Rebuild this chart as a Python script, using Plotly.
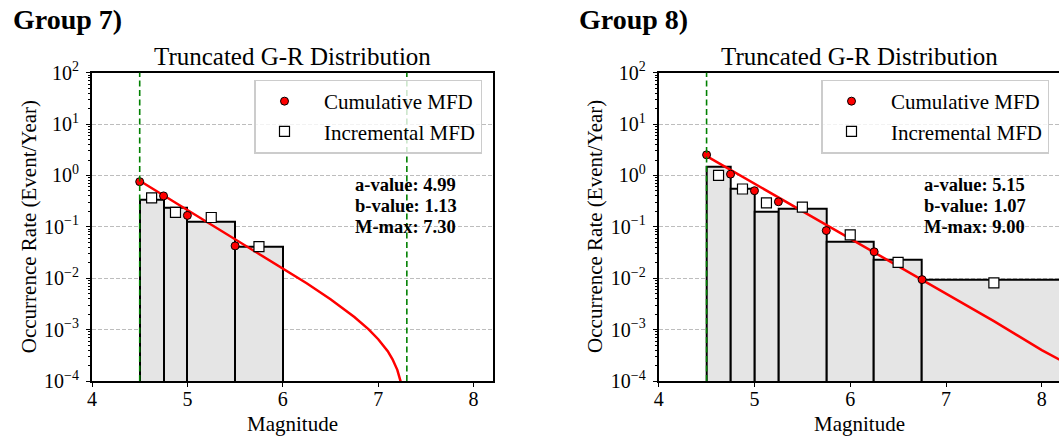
import plotly.graph_objects as go

FONT = "Liberation Serif"

# ---------------- data: Group 7 ----------------
g7_label = "Group 7)"
g7_cum_mag = [4.5, 4.75, 5.0, 5.5]
g7_cum_rate = [0.757, 0.400, 0.167, 0.0426]
g7_inc_mag = [4.625, 4.875, 5.25, 5.75]
g7_inc_rate = [0.365, 0.192, 0.152, 0.0413]
g7_bin_edges = [4.5, 4.75, 5.0, 5.5, 6.0]
g7_bin_rate = [0.335, 0.231, 0.126, 0.0414]
g7_curve_mag = [4.5, 5.0, 5.5, 6.0, 6.25, 6.5, 6.75, 6.9, 7.0, 7.1, 7.15, 7.2, 7.25, 7.28]
g7_curve_rate = [0.79, 0.215, 0.058, 0.0158, 0.0080, 0.0039, 0.00176, 0.00101,
                 0.00065, 0.00038, 0.000265, 0.000165, 0.000078, 0.00003]
g7_params = ["a-value: 4.99", "b-value: 1.13", "M-max: 7.30"]
g7_mmin, g7_mmax = 4.5, 7.30

# ---------------- data: Group 8 ----------------
g8_label = "Group 8)"
g8_cum_mag = [4.5, 4.75, 5.0, 5.25, 5.75, 6.25, 6.75]
g8_cum_rate = [2.52, 1.06, 0.505, 0.308, 0.0846, 0.0327, 0.0094]
g8_inc_mag = [4.625, 4.875, 5.125, 5.5, 6.0, 6.5, 7.5]
g8_inc_rate = [1.0, 0.545, 0.293, 0.241, 0.0697, 0.0203, 0.0081]
g8_bin_edges = [4.5, 4.75, 5.0, 5.25, 5.75, 6.25, 6.75, 8.25]
g8_bin_rate = [1.47, 0.556, 0.196, 0.222, 0.0525, 0.0226, 0.0094]
g8_curve_mag = [4.5, 5.0, 5.5, 6.0, 6.5, 7.0, 7.5, 8.0, 8.25, 8.5]
g8_curve_rate = [2.38, 0.693, 0.202, 0.059, 0.0172, 0.00502, 0.00146, 0.00040, 0.000225, 0.00011]
g8_params = ["a-value: 5.15", "b-value: 1.07", "M-max: 9.00"]
g8_mmin, g8_mmax = 4.5, 9.00

plot_title = "Truncated G-R Distribution"
x_title = "Magnitude"
y_title = "Occurrence Rate (Event/Year)"
x_tickvals = [4, 5, 6, 7, 8]
y_tickvals = [1e-4, 1e-3, 1e-2, 1e-1, 1e0, 1e1, 1e2]
y_ticktext = ["10<sup>−4</sup>", "10<sup>−3</sup>", "10<sup>−2</sup>", "10<sup>−1</sup>",
              "10<sup>0</sup>", "10<sup>1</sup>", "10<sup>2</sup>"]
legend_names = ["Cumulative MFD", "Incremental MFD"]

W, H = 1059, 437


def px(v):
    return v / W


def py(v):
    return (H - v) / H


fig = go.Figure()

groups = [
    dict(xa="x", ya="y", leg="legend", edges=g7_bin_edges, bins=g7_bin_rate,
         cm=g7_curve_mag, cr=g7_curve_rate, cum=(g7_cum_mag, g7_cum_rate),
         inc=(g7_inc_mag, g7_inc_rate), mmin=g7_mmin, mmax=g7_mmax),
    dict(xa="x2", ya="y2", leg="legend2", edges=g8_bin_edges, bins=g8_bin_rate,
         cm=g8_curve_mag, cr=g8_curve_rate, cum=(g8_cum_mag, g8_cum_rate),
         inc=(g8_inc_mag, g8_inc_rate), mmin=g8_mmin, mmax=g8_mmax),
]

PAD = "\u00a0\u00a0"
for g in groups:
    e = g["edges"]
    centers = [(e[i] + e[i + 1]) / 2 for i in range(len(e) - 1)]
    widths = [e[i + 1] - e[i] for i in range(len(e) - 1)]
    fig.add_trace(go.Bar(x=centers, y=g["bins"], width=widths, xaxis=g["xa"], yaxis=g["ya"],
                         marker=dict(color="#e5e5e5", line=dict(color="black", width=2)),
                         showlegend=False, hoverinfo="skip"))
    fig.add_trace(go.Scatter(x=g["cm"], y=g["cr"], mode="lines", xaxis=g["xa"], yaxis=g["ya"],
                             line=dict(color="#ff0000", width=2.5), showlegend=False))
    fig.add_trace(go.Scatter(x=g["cum"][0], y=g["cum"][1], mode="markers", xaxis=g["xa"], yaxis=g["ya"],
                             name=PAD + legend_names[0], legend=g["leg"],
                             marker=dict(symbol="circle", size=8, color="#ff0000",
                                         line=dict(color="black", width=1))))
    fig.add_trace(go.Scatter(x=g["inc"][0], y=g["inc"][1], mode="markers", xaxis=g["xa"], yaxis=g["ya"],
                             name=PAD + legend_names[1], legend=g["leg"],
                             marker=dict(symbol="square", size=10, color="white",
                                         line=dict(color="black", width=1.2))))
    for mv in (g["mmin"], g["mmax"]):
        fig.add_shape(type="line", x0=mv, x1=mv, y0=0, y1=1, xref=g["xa"],
                      yref=g["ya"] + " domain", layer="above",
                      line=dict(color="#008000", width=1.6, dash="6px,3.5px"))

minor_vals = [k * 10.0 ** p for p in range(-4, 2) for k in range(2, 10)]

axis_common = dict(showline=True, linecolor="black", linewidth=2, mirror=True,
                   ticks="outside", ticklen=4, tickwidth=1.2, tickcolor="black",
                   tickfont=dict(family=FONT, size=20, color="black"))

ycommon = dict(domain=[py(381), py(72.7)], type="log", range=[-4, 2],
               tickvals=y_tickvals, ticktext=y_ticktext, showgrid=True,
               gridcolor="#bdbdbd", gridwidth=1, griddash="4px,2px", ticklabelstandoff=3,
               minor=dict(tickvals=minor_vals, ticks="outside", ticklen=2, tickwidth=1,
                          tickcolor="black", showgrid=False),
               **axis_common)
xcommon = dict(tickvals=x_tickvals, showgrid=False, zeroline=False, ticklabelstandoff=-5,
               **axis_common)
legcommon = dict(y=py(79.5), xanchor="left", yanchor="top", itemwidth=48,
                 bgcolor="rgba(255,255,255,0.8)", bordercolor="#cccccc", borderwidth=1.5,
                 font=dict(family=FONT, size=21, color="black"), tracegroupgap=0)

fig.update_layout(
    width=W, height=H, autosize=False,
    margin=dict(l=0, r=0, t=0, b=0, autoexpand=False),
    paper_bgcolor="white", plot_bgcolor="white",
    bargap=0, barmode="overlay",
    font=dict(family=FONT, color="black"),
    xaxis=dict(domain=[px(92), px(492.7)], range=[4, 8.2], anchor="y", **xcommon),
    xaxis2=dict(domain=[px(658.7), 1.0], range=[4, 8.18], anchor="y2", **xcommon),
    yaxis=dict(anchor="x", **ycommon),
    yaxis2=dict(anchor="x2", **ycommon),
    legend=dict(x=px(254), **legcommon),
    legend2=dict(x=px(821), **legcommon),
)

ann = []
# group labels
for lbl, x0 in ((g7_label, 10.7), (g8_label, 577.3)):
    ann.append(dict(text="<b>" + lbl + "</b>", x=px(x0), y=py(19.9), xref="paper", yref="paper",
                    xanchor="left", yanchor="middle", showarrow=False,
                    font=dict(family=FONT, size=28, color="black")))
# titles, axis labels
for cx, ylx in ((292.3, 29.3), (859.8, 595.0)):
    ann.append(dict(text=plot_title, x=px(cx), y=py(56.6), xref="paper", yref="paper",
                    xanchor="center", yanchor="middle", showarrow=False,
                    font=dict(family=FONT, size=25, color="black")))
    ann.append(dict(text=x_title, x=px(cx), y=py(423.5), xref="paper", yref="paper",
                    xanchor="center", yanchor="middle", showarrow=False,
                    font=dict(family=FONT, size=21, color="black")))
    ann.append(dict(text=y_title, x=px(ylx), y=py(226.9), xref="paper", yref="paper",
                    xanchor="center", yanchor="middle", showarrow=False, textangle=-90,
                    font=dict(family=FONT, size=21, color="black")))
# parameter texts
for params, x0 in ((g7_params, 353.3), (g8_params, 921.7)):
    for i, t in enumerate(params):
        ann.append(dict(text="<b>" + t + "</b>", x=px(x0), y=py(185 + 20.8 * i),
                        xref="paper", yref="paper", xanchor="left", yanchor="middle",
                        showarrow=False, font=dict(family=FONT, size=18.5, color="black")))
fig.update_layout(annotations=ann)

fig.write_html("out.html", config={"displayModeBar": False},
               post_script="document.body.style.margin='0px';document.body.style.overflow='hidden';")
